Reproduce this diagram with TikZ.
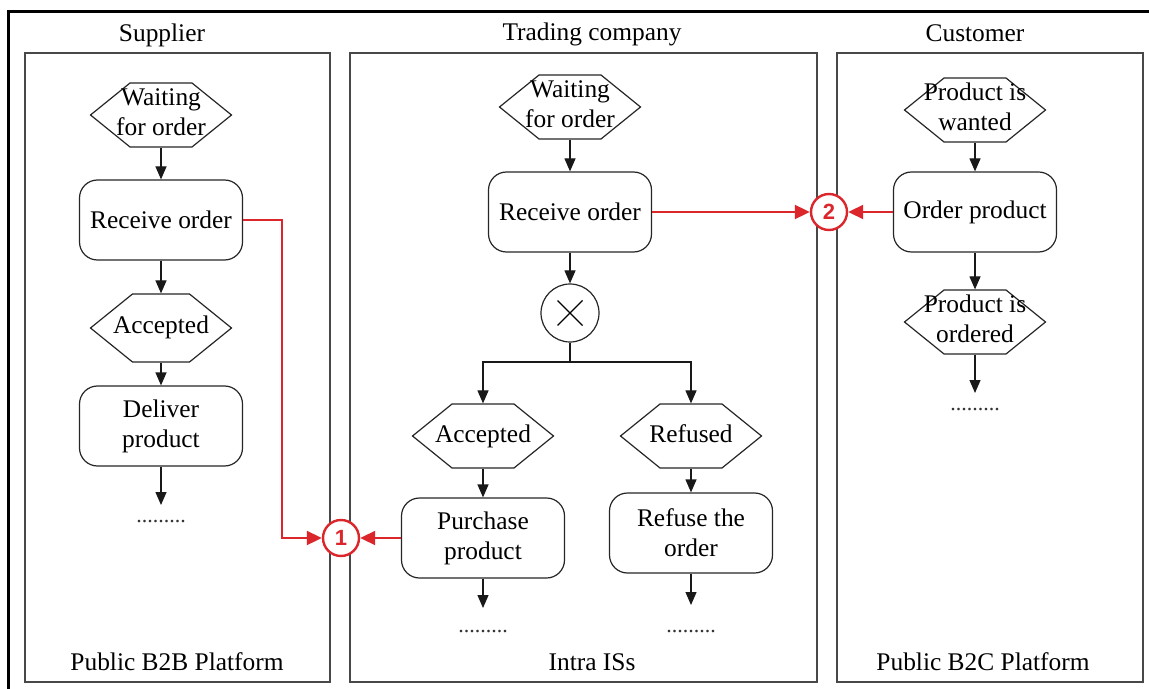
\documentclass[tikz,border=0pt]{standalone}
\usepackage{fontspec}
\setmainfont{Liberation Serif}
\newfontfamily\numfont{Liberation Sans}
\usetikzlibrary{shapes.symbols,arrows.meta,positioning}

\definecolor{linkred}{RGB}{219,38,44}
\definecolor{laneline}{RGB}{72,72,72}

\newcommand{\hextext}[1]{\makebox[0pt]{\begin{tabular}{@{}c@{}}#1\end{tabular}}}

\begin{document}
\begin{tikzpicture}[
  x=0.5pt, y=-0.5pt,
  font=\fontsize{12.7}{15}\selectfont,
  >={Triangle[length=6.5pt,width=5.5pt]},
  lane/.style={rectangle, draw=laneline, line width=0.7pt, inner sep=0pt,
               minimum height=314.5pt},
  event/.style={signal, signal to=west and east, signal pointer angle=78,
                draw=black!85, line width=0.6pt, fill=white, inner sep=0pt,
                minimum width=70.5pt, minimum height=32pt},
  func/.style={rectangle, rounded corners=9pt, draw=black!85, line width=0.6pt,
               fill=white, align=center, inner sep=0pt,
               minimum width=81.5pt, minimum height=40pt},
  xorgate/.style={circle, draw=black!85, line width=0.6pt, minimum size=29pt, inner sep=0pt},
  joint/.style={circle, draw=linkred, line width=1.2pt, fill=white, text=linkred,
                font={\numfont\fontsize{11}{11}\selectfont\bfseries},
                minimum size=18pt, inner sep=0pt},
  etc/.style={inner sep=0pt, font=\fontsize{11}{11}\selectfont, text=black!80},
  flow/.style={->, line width=0.6pt, draw=black!90},
  link/.style={-{Triangle[length=7.5pt,width=7pt]}, line width=1pt, draw=linkred},
]
\useasboundingbox (0,0) rectangle (1149,689);
\draw[line width=1.5pt] (8,689) -- (8,12) -- (1149,12);

% --- lanes ---
\node[lane, minimum width=152.5pt] (supplier) at (177.5,367.5) {};
\node[lane, minimum width=233.5pt] (trading)  at (583.5,367.5) {};
\node[lane, minimum width=153pt]   (customer) at (990,367.5) {};

\node (suptitle) at (162,35) {Supplier};
\node (tradetitle) at (592,34) {Trading company};
\node (custtitle) at (975,33) {Customer};
\node (supfoot) at (177,662) {Public B2B Platform};
\node (tradefoot) at (592,662) {Intra ISs};
\node (custfoot) at (983,662) {Public B2C Platform};

% --- supplier ---
\node[event] (swait) at (161,115) {\hextext{Waiting\\for order}};
\node[func]  (srecv) at (161,220) {Receive order};
\node[event, minimum height=34pt] (sacc) at (161,328) {\hextext{Accepted}};
\node[func]  (sdel)  at (161,426) {Deliver\\product};
\coordinate  (send)  at (161,505);
\node[etc]   (sdots) at (161,522) {.........};

% --- trading company ---
\node[event]   (twait) at (570,107) {\hextext{Waiting\\for order}};
\node[func]    (trecv) at (570,212) {Receive order};
\node[xorgate] (xor)   at (570,313) {};
\coordinate    (split) at (570,362);
\node[event]   (tacc)  at (483,436) {\hextext{Accepted}};
\node[event]   (tref)  at (691,436) {\hextext{Refused}};
\node[func]    (tpur)  at (483,538) {Purchase\\product};
\node[func]    (trefo) at (691,533) {Refuse the\\order};
\coordinate    (tend1) at (483,608);
\coordinate    (tend2) at (691,605);
\node[etc]     (tdots1) at (483,632) {.........};
\node[etc]     (tdots2) at (691,632) {.........};

% --- customer ---
\node[event] (cwant)  at (975,110) {\hextext{Product is\\wanted}};
\node[func]  (corder) at (975,212) {Order product};
\node[event] (cdone)  at (975,322) {\hextext{Product is\\ordered}};
\coordinate  (cend)   at (975,393);
\node[etc]   (cdots)  at (975,410) {.........};

% --- joints ---
\node[joint] (j1) at (341,538) {1};
\node[joint] (j2) at (829,212) {2};
\coordinate (sbend) at (282,538);

% --- flows ---
\draw[flow] (swait) -- (srecv);
\draw[flow] (srecv) -- (sacc);
\draw[flow] (sacc) -- (sdel);
\draw[flow] (sdel) -- (send);

\draw[flow] (twait) -- (trecv);
\draw[flow] (trecv) -- (xor);
\draw[line width=0.6pt] ([shift={(-12.5,-12.5)}]xor.center) -- ([shift={(12.5,12.5)}]xor.center);
\draw[line width=0.6pt] ([shift={(-12.5,12.5)}]xor.center) -- ([shift={(12.5,-12.5)}]xor.center);
\draw[line width=0.6pt, draw=black!90] (xor) -- (split);
\draw[flow] (split) -| (tacc);
\draw[flow] (split) -| (tref);
\draw[flow] (tacc) -- (tpur);
\draw[flow] (tref) -- (trefo);
\draw[flow] (tpur) -- (tend1);
\draw[flow] (trefo) -- (tend2);

\draw[flow] (cwant) -- (corder);
\draw[flow] (corder) -- (cdone);
\draw[flow] (cdone) -- (cend);

% --- links between platforms ---
\draw[link] (srecv.east) -| (sbend) -- (j1);
\draw[link] (tpur) -- (j1);
\draw[link] (trecv) -- (j2);
\draw[link] (corder) -- (j2);

\end{tikzpicture}
\end{document}
